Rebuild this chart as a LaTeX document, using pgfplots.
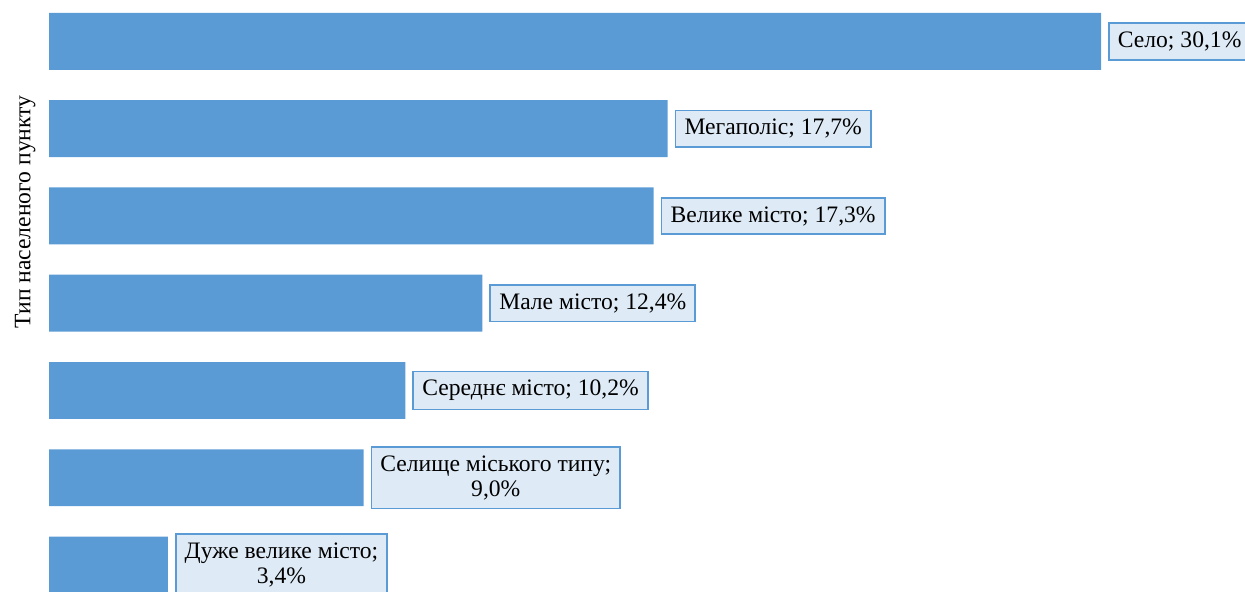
\documentclass[border=0pt]{standalone}
\usepackage{pgfplots}
\pgfplotsset{compat=1.18}
\usepackage{fontspec}
\setmainfont{Liberation Serif}
\definecolor{barblue}{HTML}{5B9BD5}
\definecolor{boxfill}{HTML}{DEEBF7}
\newcommand\lbl[1]{\ifcase#1\relax Дуже велике місто;\\3,4\%\or Селище міського типу;\\9,0\%\or Середнє місто; 10,2\%\or Мале місто; 12,4\%\or Велике місто; 17,3\%\or Мегаполіс; 17,7\%\or Село; 30,1\%\fi}
\begin{document}
\begin{tikzpicture}
\path[use as bounding box, clip] (0,0) rectangle (622.5pt,296pt);
\begin{axis}[
  at={(24.5pt,0pt)}, anchor=south west,
  scale only axis, width=594.15pt, height=296pt,
  xmin=0, xmax=34, ymin=-0.3095, ymax=6.4756,
  xbar, bar width=0.653,
  axis line style={draw=none}, major tick length=0pt,
  xtick=\empty, ytick=\empty,
  clip=false,
  nodes near coords={\lbl{\coordindex}},
  nodes near coords style={anchor=west, xshift=3.5pt, draw=barblue, fill=boxfill, line width=0.9pt, align=center, font=\fontsize{11.8pt}{12.6pt}\selectfont, inner xsep=4.5pt, inner ysep=4.3pt, text=black},
]
\addplot[fill=barblue, draw=none] coordinates {
 (3.4,0) (9.0,1) (10.2,2) (12.4,3) (17.3,4) (17.7,5) (30.1,6)
};
\end{axis}
\node[rotate=90, font=\fontsize{11.8pt}{13.2pt}\selectfont] at (12.6pt,190pt) {Тип населеного пункту};
\end{tikzpicture}
\end{document}
